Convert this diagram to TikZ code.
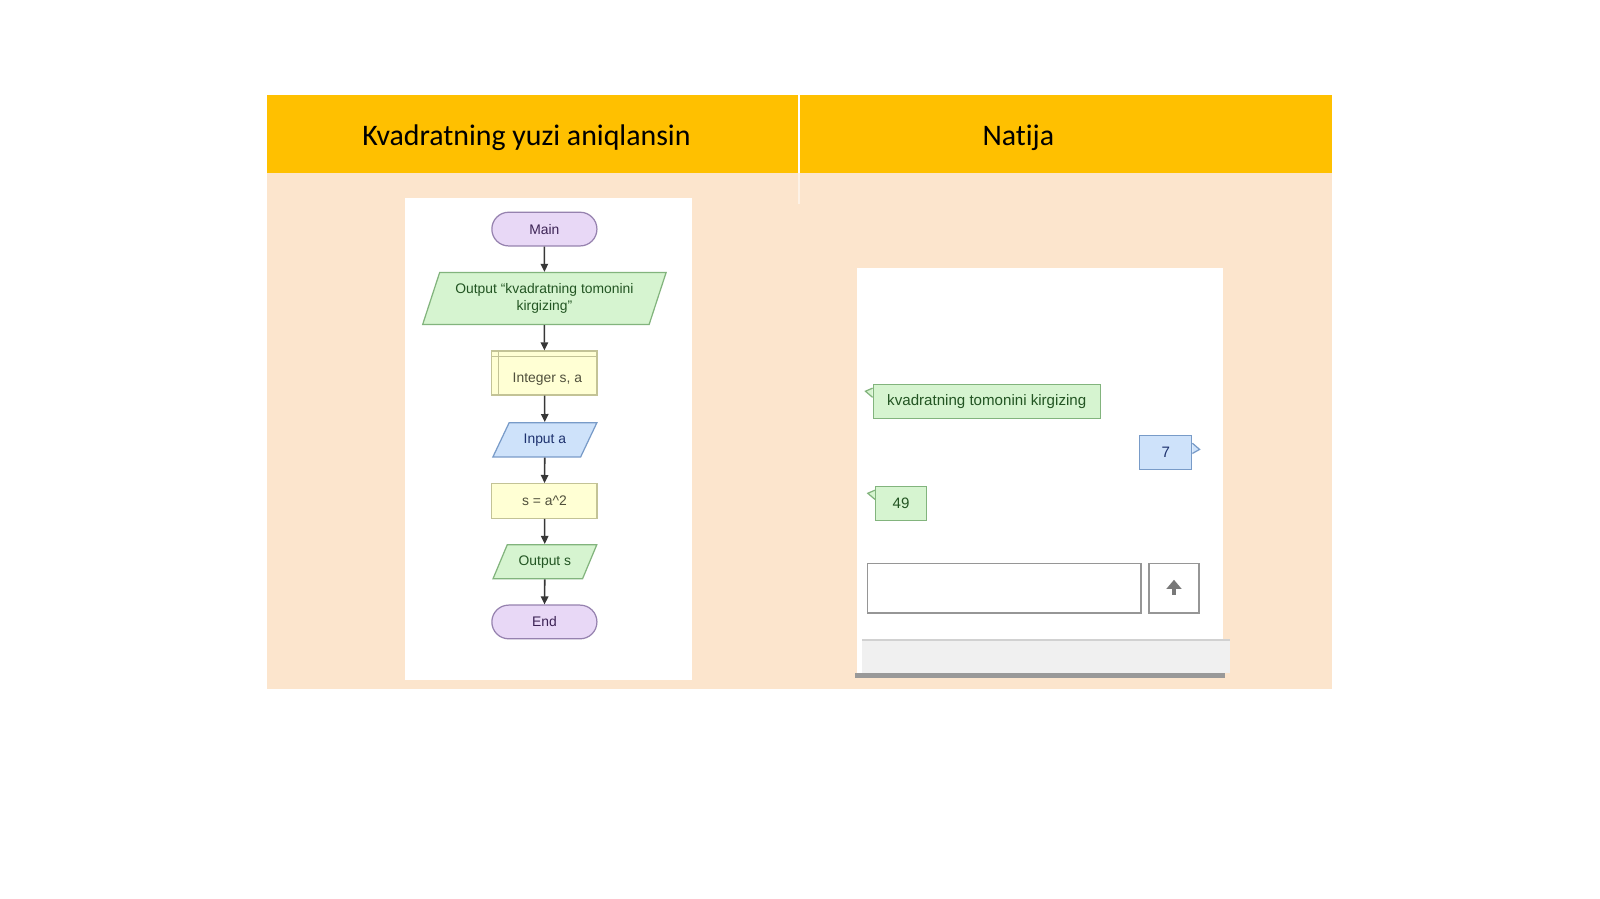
\documentclass[tikz,border=0pt]{standalone}
\usepackage{fontspec}
\setmainfont{Carlito}[Ligatures={NoCommon}]
\newfontfamily\chartfont{Liberation Sans}
\usetikzlibrary{shapes.geometric,arrows.meta}
\definecolor{headyellow}{RGB}{255,192,0}
\definecolor{peach}{RGB}{252,229,205}
\definecolor{termfill}{RGB}{232,216,246}
\definecolor{termline}{RGB}{150,130,175}
\definecolor{termtext}{RGB}{60,35,85}
\definecolor{iogreen}{RGB}{214,244,208}
\definecolor{iogreenline}{RGB}{130,180,125}
\definecolor{greentext}{RGB}{35,85,35}
\definecolor{procfill}{RGB}{255,255,212}
\definecolor{procline}{RGB}{195,195,150}
\definecolor{proctext}{RGB}{80,80,60}
\definecolor{inblue}{RGB}{206,226,250}
\definecolor{inblueline}{RGB}{120,155,200}
\definecolor{bluetext}{RGB}{30,50,110}
\definecolor{arrowgrey}{RGB}{55,55,55}
\definecolor{boxgrey}{RGB}{150,150,150}
\begin{document}
\begin{tikzpicture}[x=0.0102041cm,y=-0.0102041cm,
	chart/.style={font=\chartfont\fontsize{3.95}{4.9}\selectfont, line width=0.35pt, inner sep=1pt},
	term/.style={chart, draw=termline, fill=termfill, text=termtext, rounded corners=0.168cm, minimum width=1.051cm, minimum height=0.337cm},
	io/.style={chart, trapezium, trapezium stretches=true, trapezium left angle=60, trapezium right angle=120, minimum width=1.041cm, minimum height=0.342cm},
	outbox/.style={io, draw=iogreenline, fill=iogreen, text=greentext},
	inbox/.style={io, draw=inblueline, fill=inblue, text=bluetext},
	proc/.style={chart, draw=procline, fill=procfill, text=proctext, minimum width=1.051cm, minimum height=0.347cm},
	flow/.style={draw=arrowgrey, line width=0.45pt, -{Triangle[length=2.3pt,width=2.1pt]}},
	bubble/.style={chart, font=\chartfont\fontsize{4.3}{5}\selectfont, minimum height=0.337cm, inner xsep=4pt},
	greenbubble/.style={bubble, draw=iogreenline, fill=iogreen, text=greentext},
	bluebubble/.style={bubble, draw=inblueline, fill=inblue, text=bluetext}]
	\useasboundingbox (0,0) rectangle (1568,881);
	\fill[white] (0,0) rectangle (1568,881);
	% table
	\fill[peach] (262,170) rectangle (1305,675);
	\fill[headyellow] (262,93) rectangle (1305,170);
	\draw[white, line width=0.6pt] (783,93) -- (783,170);
	\draw[white, opacity=0.5, line width=0.6pt] (783,170) -- (783,200);
	\node[text=black, font=\fontsize{8.5}{10}\selectfont] (title) at (516,135) {Kvadratning yuzi aniqlansin};
	\node[text=black, font=\fontsize{8.5}{10}\selectfont] (result) at (998,135) {Natija};
	\fill[white] (397,194) rectangle (678,666);
	\fill[white] (840,263) rectangle (1199,660);
	% flowchart
	\node[term] (main) at (533.5,224.5) {Main};
	\node[outbox, minimum width=2.439cm, minimum height=0.520cm, trapezium left angle=68, trapezium right angle=112, align=center] (out1) at (533.5,292.5) {Output “kvadratning tomonini\\kirgizing”};
	\node[proc, minimum height=0.439cm] (decl) at (533.5,365.5) {\raisebox{-0.06cm}[\height][\depth]{\hspace{0.06cm}Integer s, a}};
	\draw[procline, line width=0.35pt] ([xshift=0.075cm]decl.north west) -- ([xshift=0.075cm]decl.south west);
	\draw[procline, line width=0.35pt] ([yshift=-0.06cm]decl.north west) -- ([yshift=-0.06cm]decl.north east);
	\node[inbox] (inp) at (534,431) {Input a};
	\node[proc] (calc) at (533.5,491) {s = a\^{}2};
	\node[outbox] (out2) at (534,550.5) {Output s};
	\node[term] (end) at (533.5,609.5) {End};
	\draw[flow] (main) -- (out1);
	\draw[flow] (out1) -- (decl);
	\draw[flow] (decl) -- (inp);
	\draw[flow] (inp) -- (calc);
	\draw[flow] (calc) -- (out2);
	\draw[flow] (out2) -- (end);
	% console
	\node[greenbubble, minimum width=2.204cm] (ask) at (967,393.5) {kvadratning tomonini kirgizing};
	\draw[iogreenline, fill=iogreen, line width=0.35pt] ([shift={(0,4)}]ask.north west) -- ([shift={(-7,7)}]ask.north west) -- ([shift={(0,13)}]ask.north west);
	\node[bluebubble, minimum width=0.520cm] (side) at (1142.5,443.5) {7};
	\draw[inblueline, fill=inblue, line width=0.35pt] ([shift={(0,8)}]side.north east) -- ([shift={(7,14)}]side.north east) -- ([shift={(0,18)}]side.north east);
	\node[greenbubble, minimum width=0.510cm] (area) at (883,493.5) {49};
	\draw[iogreenline, fill=iogreen, line width=0.35pt] ([shift={(0,4)}]area.north west) -- ([shift={(-7,7)}]area.north west) -- ([shift={(0,13)}]area.north west);
	\node[draw=boxgrey, line width=0.45pt, minimum width=2.735cm, minimum height=0.500cm] (entry) at (984,576.5) {};
	\node[draw=boxgrey, line width=0.45pt, minimum width=0.500cm, minimum height=0.500cm] (send) at (1150.5,576.5) {};
	\draw[boxgrey!80!black, line width=1.1pt, -{Triangle[length=2.6pt,width=4.2pt]}] ([yshift=-0.065cm]send.center) -- ([yshift=0.085cm]send.center);
	\fill[black!6] (845,627) rectangle (1205,660);
	\draw[black!18, line width=0.5pt] (845,627) -- (1205,627);
	\draw[black!40, line width=1.2pt] (838,662) -- (1200,662);
\end{tikzpicture}
\end{document}
